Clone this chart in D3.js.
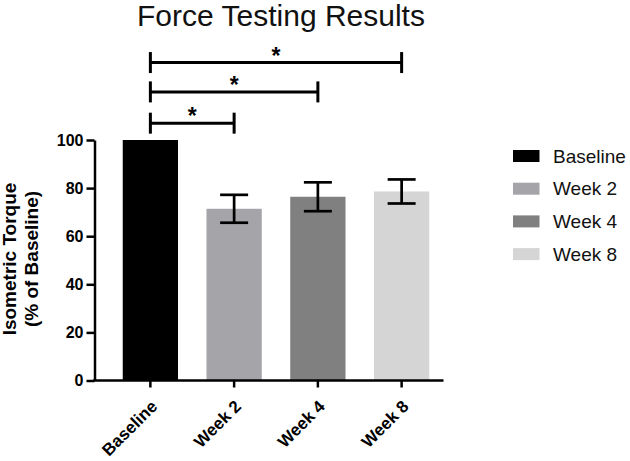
<!DOCTYPE html>
<html>
<head>
<meta charset="utf-8">
<script src="https://cdn.jsdelivr.net/npm/d3@7"></script>
<style>
  html, body { margin: 0; padding: 0; background: #fff; }
  svg { display: block; font-family: "Liberation Sans", Arial, sans-serif; }
</style>
</head>
<body>
<svg id="chart" width="630" height="461"></svg>
<script>
// ---- data ----
const categories = ["Baseline", "Week 2", "Week 4", "Week 8"];
const means = [100, 71.4, 76.4, 78.6];
const errors = [0, 5.8, 6.0, 5.0];
const colors = ["#000000", "#a4a4a9", "#808080", "#d5d5d5"];
const yTicks = [0, 20, 40, 60, 80, 100];
const comparisons = [
  { from: "Baseline", to: "Week 2", level: 107, label: "*" },
  { from: "Baseline", to: "Week 4", level: 120, label: "*" },
  { from: "Baseline", to: "Week 8", level: 132.2, label: "*" }
];
const title = "Force Testing Results";
const yTitle = ["Isometric Torque", "(% of Baseline)"];

// ---- drawing ----
const svg = d3.select("#chart");
const axisX0 = 94.5;
const y = d3.scaleLinear().domain([0, 100]).range([380.5, 140]);
const x = d3.scaleBand().domain(categories).range([108.5, 443.5])
  .paddingInner(0.34).paddingOuter(0.17);

// title
svg.append("text").attr("x", 281).attr("y", 26)
  .attr("text-anchor", "middle").attr("font-size", 30).attr("fill", "#111")
  .text(title);

// bars
svg.append("g").selectAll("rect").data(categories).join("rect")
  .attr("x", d => x(d))
  .attr("width", x.bandwidth())
  .attr("y", (d, i) => y(means[i]))
  .attr("height", (d, i) => y(0) - y(means[i]))
  .attr("fill", (d, i) => colors[i]);

// error bars
const eb = svg.append("g").attr("stroke", "#000").attr("stroke-width", 2.7);
categories.forEach((c, i) => {
  if (!errors[i]) return;
  const cx = x(c) + x.bandwidth() / 2;
  const hi = y(means[i] + errors[i]), lo = y(means[i] - errors[i]);
  eb.append("line").attr("x1", cx).attr("x2", cx).attr("y1", hi).attr("y2", lo);
  eb.append("line").attr("x1", cx - 14).attr("x2", cx + 14).attr("y1", hi).attr("y2", hi);
  eb.append("line").attr("x1", cx - 14).attr("x2", cx + 14).attr("y1", lo).attr("y2", lo);
});

// y axis
const yAxis = svg.append("g").attr("transform", `translate(${axisX0},0)`)
  .call(d3.axisLeft(y).tickValues(yTicks).tickSize(8).tickSizeOuter(0).tickPadding(3));
yAxis.selectAll("path, line").attr("stroke", "#000").attr("stroke-width", 2.5);
yAxis.selectAll("text").attr("font-size", 16).attr("font-weight", "bold")
  .attr("font-family", "'Liberation Sans', Arial, sans-serif").attr("fill", "#000");

// x axis
const xAxis = svg.append("g").attr("transform", `translate(0,${y(0)})`)
  .call(d3.axisBottom(x).tickSize(7).tickSizeOuter(0));
xAxis.select(".domain").remove();
xAxis.append("line").attr("x1", axisX0 - 1.25).attr("x2", 443.5)
  .attr("y1", 0).attr("y2", 0).attr("stroke", "#000").attr("stroke-width", 2.5);
xAxis.selectAll(".tick line").attr("stroke", "#000").attr("stroke-width", 2.5);
xAxis.selectAll(".tick text")
  .attr("font-size", 17).attr("font-weight", "bold")
  .attr("font-family", "'Liberation Sans', Arial, sans-serif").attr("fill", "#000")
  .attr("text-anchor", "end").attr("dy", null)
  .attr("transform", "translate(8,27) rotate(-45)")
  .attr("y", 0).attr("x", 0);

// y axis title
const yt = svg.append("text").attr("transform", "translate(0,259) rotate(-90)")
  .attr("text-anchor", "middle").attr("font-size", 19).attr("font-weight", "bold").attr("fill", "#000");
yt.append("tspan").attr("x", 0).attr("y", 16).text(yTitle[0]);
yt.append("tspan").attr("x", 0).attr("y", 38).text(yTitle[1]);

// significance brackets
const sig = svg.append("g");
comparisons.forEach(cmp => {
  const x1 = x(cmp.from) + x.bandwidth() / 2;
  const x2 = x(cmp.to) + x.bandwidth() / 2;
  const yy = y(cmp.level);
  const g = sig.append("g").attr("stroke", "#000").attr("stroke-width", 3);
  g.append("line").attr("x1", x1).attr("x2", x2).attr("y1", yy).attr("y2", yy);
  g.append("line").attr("x1", x1).attr("x2", x1).attr("y1", yy - 10.5).attr("y2", yy + 10.5);
  g.append("line").attr("x1", x2).attr("x2", x2).attr("y1", yy - 10.5).attr("y2", yy + 10.5);
  sig.append("text").attr("x", (x1 + x2) / 2).attr("y", yy + 1)
    .attr("text-anchor", "middle").attr("font-size", 23).attr("font-weight", "bold")
    .attr("fill", "#000")
    .text(cmp.label);
});

// legend
const legend = svg.append("g").attr("transform", "translate(513,156)");
const li = legend.selectAll("g").data(categories).join("g")
  .attr("transform", (d, i) => `translate(0,${i * 32.7})`);
li.append("rect").attr("x", 0).attr("y", -6).attr("width", 26.5).attr("height", 12)
  .attr("fill", (d, i) => colors[i]);
li.append("text").attr("x", 40).attr("y", 0).attr("dy", "0.35em")
  .attr("font-size", 19).attr("fill", "#111").text(d => d);
</script>
</body>
</html>
